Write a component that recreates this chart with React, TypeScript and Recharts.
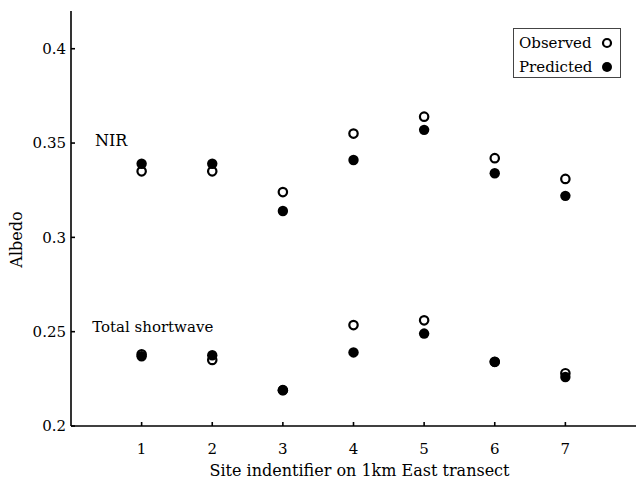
import React from 'react';
import { ComposedChart, Scatter, XAxis, YAxis, Legend, ReferenceDot } from 'recharts';

// Site numbers along the 1 km East transect
const sites = [1, 2, 3, 4, 5, 6, 7];

// Near-infrared albedo
const nirObserved = [0.335, 0.335, 0.324, 0.355, 0.364, 0.342, 0.331];
const nirPredicted = [0.339, 0.339, 0.314, 0.341, 0.357, 0.334, 0.322];

// Total shortwave albedo
const swObserved = [0.238, 0.235, 0.219, 0.2535, 0.256, 0.234, 0.228];
const swPredicted = [0.237, 0.2375, 0.219, 0.239, 0.249, 0.234, 0.226];

// Axis ticks
const xTicks = [1, 2, 3, 4, 5, 6, 7];
const yTicks = [0.2, 0.25, 0.3, 0.35, 0.4];
const yTickLabels = ['0.2', '0.25', '0.3', '0.35', '0.4'];

const FONT = '"DejaVu Serif", serif';

const toPoints = (a: number[], b: number[]) => [
  ...sites.map((s, i) => ({ site: s, albedo: a[i] })),
  ...sites.map((s, i) => ({ site: s, albedo: b[i] })),
];

const observedPoints = toPoints(nirObserved, swObserved);
const predictedPoints = toPoints(nirPredicted, swPredicted);

const OpenDot = (p: any) => (
  <circle cx={p.cx} cy={p.cy} r={4.2} fill="#fff" stroke="#000" strokeWidth={2.2} />
);
const FilledDot = (p: any) => <circle cx={p.cx} cy={p.cy} r={5.2} fill="#000" />;

const YTitle = (props: any) => {
  const vb = props.viewBox || { x: 0, y: 0, width: 0, height: 0 };
  const cx = vb.x + 16;
  const cy = vb.y + vb.height / 2 + 21;
  return (
    <text
      x={cx}
      y={cy}
      transform={`rotate(-90, ${cx}, ${cy})`}
      textAnchor="middle"
      dominantBaseline="central"
      fontFamily={FONT}
      fontSize={16}
      fill="#000"
    >
      Albedo
    </text>
  );
};

const XTitle = (props: any) => {
  const vb = props.viewBox || { x: 0, y: 0, width: 0, height: 0 };
  return (
    <text
      x={vb.x + vb.width / 2 + 6}
      y={vb.y + 50}
      textAnchor="middle"
      fontFamily={FONT}
      fontSize={16}
      fill="#000"
    >
      Site indentifier on 1km East transect
    </text>
  );
};

const LegendBox = () => (
  <div
    style={{
      border: '1px solid #444',
      width: 106,
      height: 48,
      background: '#fff',
      fontFamily: FONT,
      fontSize: 15,
      color: '#000',
      boxSizing: 'content-box',
    }}
  >
    {[
      { name: 'Observed', open: true },
      { name: 'Predicted', open: false },
    ].map((e) => (
      <div
        key={e.name}
        style={{ display: 'flex', alignItems: 'center', height: 20, marginTop: 4, paddingLeft: 5 }}
      >
        <span style={{ width: 80, lineHeight: '20px' }}>{e.name}</span>
        <svg width={14} height={14} style={{ marginLeft: 1 }}>
          {e.open ? (
            <circle cx={7} cy={7} r={4} fill="#fff" stroke="#000" strokeWidth={2.2} />
          ) : (
            <circle cx={7} cy={7} r={5} fill="#000" />
          )}
        </svg>
      </div>
    ))}
  </div>
);

const axisStyle = { stroke: '#000', strokeWidth: 1.6 };
const tickStyle = { fill: '#000', fontFamily: FONT, fontSize: 15 };

export default function App() {
  return (
    <div style={{ position: 'absolute', left: 0, top: 0, width: 636, height: 480, background: '#fff' }}>
      <ComposedChart width={636} height={480} margin={{ top: 11, right: 0, bottom: 0, left: 0 }}>
        <XAxis
          xAxisId="b"
          type="number"
          dataKey="site"
          domain={[0, 8]}
          ticks={xTicks}
          orientation="bottom"
          height={54}
          tickSize={-4}
          tickMargin={21}
          axisLine={axisStyle}
          tickLine={{ stroke: '#000', strokeWidth: 1.6 }}
          tick={tickStyle}
          label={<XTitle />}
        />
        <XAxis
          xAxisId="t"
          type="number"
          domain={[0, 8]}
          ticks={xTicks}
          orientation="top"
          height={0}
          tickSize={-4}
          tick={false}
          axisLine={axisStyle}
          tickLine={{ stroke: '#000', strokeWidth: 1.6 }}
        />
        <YAxis
          yAxisId="l"
          type="number"
          dataKey="albedo"
          domain={[0.2, 0.42]}
          ticks={yTicks}
          orientation="left"
          width={71}
          tickSize={-4}
          tickMargin={9}
          axisLine={axisStyle}
          tickLine={{ stroke: '#000', strokeWidth: 1.6 }}
          tick={tickStyle}
          tickFormatter={(v: number) => yTickLabels[yTicks.indexOf(v)] ?? String(v)}
          label={<YTitle />}
        />
        <YAxis
          yAxisId="r"
          type="number"
          domain={[0.2, 0.42]}
          ticks={yTicks}
          orientation="right"
          width={0}
          tickSize={-4}
          tick={false}
          axisLine={axisStyle}
          tickLine={{ stroke: '#000', strokeWidth: 1.6 }}
        />
        <ReferenceDot
          xAxisId="b"
          yAxisId="l"
          x={0.24}
          y={0.3513}
          r={0}
          fill="none"
          stroke="none"
          label={{ value: 'NIR', position: 'right', offset: 7, fill: '#000', fontFamily: FONT, fontSize: 16 }}
        />
        <ReferenceDot
          xAxisId="b"
          yAxisId="l"
          x={0.2}
          y={0.2524}
          r={0}
          fill="none"
          stroke="none"
          label={{ value: 'Total shortwave', position: 'right', offset: 7, fill: '#000', fontFamily: FONT, fontSize: 15 }}
        />
        <Scatter
          name="Observed"
          xAxisId="b"
          yAxisId="l"
          data={observedPoints}
          dataKey="albedo"
          shape={<OpenDot />}
          isAnimationActive={false}
        />
        <Scatter
          name="Predicted"
          xAxisId="b"
          yAxisId="l"
          data={predictedPoints}
          dataKey="albedo"
          shape={<FilledDot />}
          isAnimationActive={false}
        />
        <Legend
          layout="vertical"
          align="center"
          verticalAlign="middle"
          content={<LegendBox />}
          wrapperStyle={{ position: 'absolute', left: 513, top: 28, width: 'auto', bottom: 'auto', right: 'auto' }}
        />
      </ComposedChart>
    </div>
  );
}
